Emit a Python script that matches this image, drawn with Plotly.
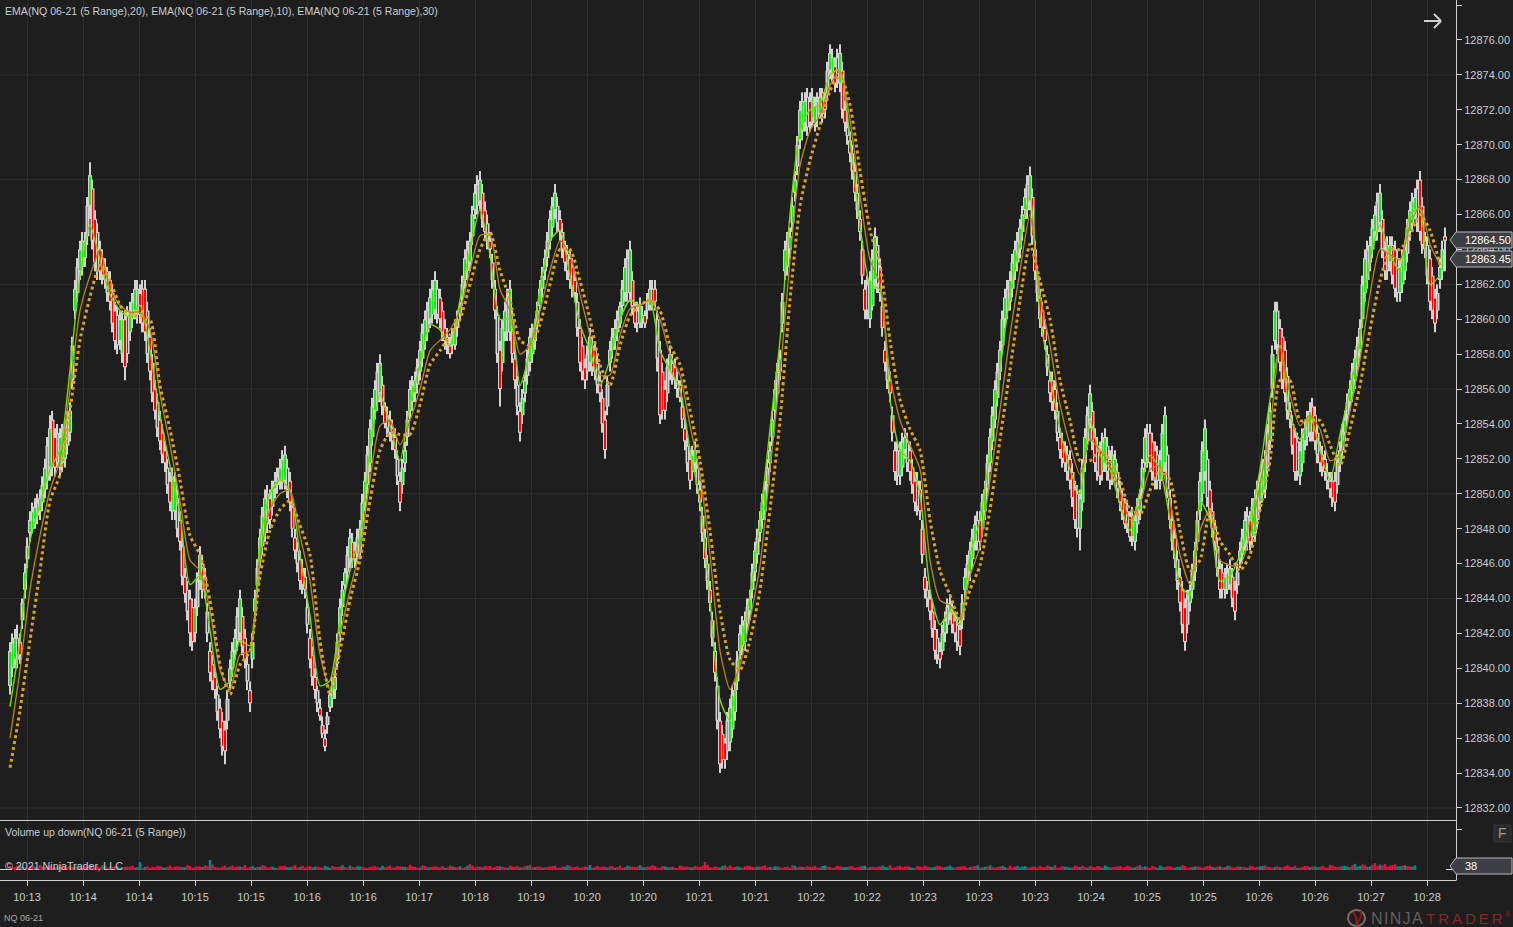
import plotly.graph_objects as go

W, H = 1513, 927
PLOT_R = 1456
MAIN_B = 820
VOL_T, VOL_B = 821, 880

# prices are written as offset from this base
base = 12800

highs = [41.5,42.25,42,46,49,49.75,50.25,52,54.5,53.75,
 53.75,54.25,55.25,62.25,64.5,65,69,66.25,64.5,63.5,
 62.75,61,60.5,60.5,61,62.25,62,62.25,59.5,56.5,
 54.75,53,51.25,51.25,49,45.75,44.5,44,47,45.75,
 41.5,40,38.25,37,40.5,42.25,44.5,42.25,39.25,44.5,
 48,50.25,50.25,51.25,52,52.75,51.25,48,46.75,45.75,
 42.25,40,38.25,36.5,38.75,40,44,45.75,48,47.25,
 48.5,51.25,54.25,56.5,58,55.25,54.75,53.75,51.25,53,
 56.5,57,58.75,60.5,61.75,62.75,61.75,60,59,60,
 61,64,65,67.75,68.5,66.75,65,62.25,58.75,61,
 62.25,58.25,55.25,57,59.5,60,62.25,64,66.25,67.75,
 66.25,64.5,64,62.75,60,57.75,59.5,58.75,57,54.75,
 58.75,60,61,63.5,64.5,61,61.25,60.5,62.25,62.25,
 58.75,56.5,58.5,57.75,56.5,54.25,52.5,53,50.75,48,
 45,41.5,37.5,36,38.25,39.25,42.5,43.25,44.5,47.25,
 49,50.75,53,56.5,58.25,64.5,65.25,68.5,72.5,73,
 73,72.75,73.25,73,75.75,75,75.75,72.5,70.75,69,
 66.25,62.25,62.75,65.25,63.5,58.75,57,53,53,53.75,
 53,51.25,50.75,45.75,44.5,42.75,41.5,43.25,44.25,43.25,
 42.75,45.75,47.25,48.75,49,50.75,53.75,56.5,58.75,61.75,
 62.75,64.5,65.75,67.5,68.75,64.5,61.75,60,57,56.5,
 53.75,53,52.5,50.75,50.25,53.75,56.25,53.75,53,53.75,
 52.5,52.5,50.75,49.75,49,49,50.25,53.75,54,53,
 52.5,55,50.25,48,45.75,44,45,47.25,51.25,54.25,
 50.75,48.5,46.25,45.75,46.25,45,47.25,49,49,50.25,
 51.25,52.5,55.25,61,60,58.75,55.25,53.75,53,54.25,
 55.25,55,53,52.5,51.25,51.25,53,54.75,56.5,58.25,
 60,64,64.75,66.5,67.75,64.5,64.75,64.5,63.5,64.5,
 66.75,67.5,68.5,65,64,61.75,63.5,65.25]

lows = [38.5,40,40.25,44,47.25,48,48.5,49.75,50.75,51,
 51,51.5,53,60,62.25,63,65.75,62.75,62.25,61.75,
 60.5,58.25,58.25,56.5,58.75,60,59.75,58.75,56.5,54.25,
 52.5,51.25,49,48.5,46.75,43.75,41.25,41.5,44.5,44,
 39.25,38.25,36,34.5,38.75,40.5,41.5,40,37.5,42.75,
 45.75,47.25,48,49.75,50.25,50.25,49,46.25,44.5,44,
 40,38.25,37,35.25,37.5,38.25,41.5,44.5,45.75,45.75,
 46.25,49,51.25,54.25,55.25,53.75,53,52,49,51.25,
 54.25,55.25,56.5,58.25,59.5,60,59.5,58.25,57.75,58.25,
 60,61.75,62.75,65.75,66.25,64.5,63.5,60,55,58.75,
 58.75,56,53,55.25,57,58.25,60.5,62.25,64,65.75,
 64.5,62.75,61.75,61,57,56,57,56.5,55.25,52,
 57,58.25,59.5,61,61,59.5,59.5,59.5,60.5,60.5,
 54,54.25,56.5,56,55.25,52.5,50.25,51.25,49,45.75,
 43.25,39.25,34,34.25,35.25,37,40.5,41,42.75,45,
 47.25,48.5,51.25,54.25,56.5,62.25,63.5,66.75,69.75,70.75,
 70.75,70.75,71.5,71.5,73.75,73,73,70.75,69,66.75,
 64.5,60,59.5,61.75,61,57,55.25,50.75,50.5,52,
 50.75,49,48.5,44,42.75,40.5,40,41.5,42.75,41.5,
 40.75,44,45,46.75,46.75,48.5,51.25,53.75,56.5,59.5,
 60.5,62.25,63.5,65.75,66.25,62.25,59.5,58.25,55.25,54.25,
 52,51.25,50.25,48,46.75,51.25,53.75,51.25,50.5,51.25,
 50.25,50.75,49,48,47.25,46.75,48.5,51.25,51.25,50.25,
 50.25,51.25,48,45.75,43.25,41,43.25,45,48.5,50.75,
 48.5,46.75,44,44,44.5,42.75,45.75,46.75,46.75,47.25,
 49,49.75,52.5,58.25,57,55.25,53.75,50.75,50.5,52.5,
 53,52.5,51.25,50.75,49.75,49,51.25,53,54.75,56,
 57.75,61,62.75,64.5,65,62.25,62.75,61.25,61,62.25,
 64.5,65.75,64.5,63.5,60.5,59.25,61.75,62.75]

opens = [39,40.5,41.5,44.5,47.75,48.5,49,50.25,51.5,53.25,
 51.5,52,53.5,60.5,62.75,63.5,66.5,65.75,64,63,
 62.25,60.5,58.75,60,59.25,60.5,61.5,61.75,59,56,
 54.25,52.5,50.75,49,48.5,45.25,44,42,45,45.25,
 41,39.5,37.75,36.5,39.25,41,42,41.75,38.75,43.25,
 46.25,47.75,49.75,50.25,50.75,50.75,50.75,47.5,46.25,45.25,
 41.75,39.5,37.75,36,37.75,38.75,42,44.75,46.25,46.75,
 46.75,49.5,51.75,54.75,55.75,55,54.25,53.25,50.75,51.75,
 54.75,55.75,57,58.75,60,60.5,61.25,59.5,58.5,58.5,
 60.25,62.25,63.25,66.25,66.75,66.25,64.5,61.75,58.25,59.25,
 59.25,57.75,54.75,55.75,57.5,58.75,60.75,62.75,64.5,66.25,
 65.75,64,63.5,62.25,59.5,57.25,57.5,58.25,56.5,54.25,
 57.5,58.75,59.75,61.5,61.5,60.75,59.75,60.25,60.75,61.75,
 58.25,56,57,57.25,56.25,53.75,52,51.75,50.25,47.5,
 44.5,41,37,35.75,35.75,37.5,41,41.5,43.25,45.5,
 47.75,49,51.75,54.75,57,62.75,64,67.25,70.25,71.25,
 72.5,71.25,71.75,72.5,74.25,74.5,73.5,72,70.25,68.5,
 65.75,61.75,60,62.25,63,58.25,56.5,52.5,51,52.5,
 52.5,50.75,50.25,45.25,44,42.25,41,42,43.25,42.75,
 42.25,44.5,45.5,47.25,48.5,49,51.75,54.25,57,60,
 61,62.75,64,66.25,66.75,64,61.25,59.5,56.5,56,
 53.25,52.5,52,50.25,48,51.75,54.25,53.25,52.5,51.75,
 52,51,50.25,49.5,48.75,47.25,49,51.75,53.5,52.5,
 50.75,51.75,49.75,47.5,45.25,43.5,43.75,45.5,49,51.25,
 50.25,48,45.75,44.5,44.75,44.5,46.25,47.25,48.5,47.75,
 49.5,50.25,53,58.75,59.5,58.25,54.75,53.25,51,53,
 53.5,54.5,52.5,52,50.75,50.75,51.75,53.5,55.25,56.5,
 58.25,61.5,63.25,65,65.5,64,63.25,64,61.5,62.75,
 65,66.25,68,64.5,63.5,61.25,62.25,64.75]

closes = [41,41.75,40.75,45.5,48.5,49.25,49.75,51.5,53.75,51.5,
 53.25,53.75,54.75,61.75,64,64.5,68.25,63.25,62.75,62.25,
 61,58.75,60,57.25,60.5,61.75,60.25,59.25,57,54.75,
 53,51.75,49.5,50.75,47.25,44.25,42,43.5,46.5,44.5,
 39.75,38.75,36.5,35.25,40,41.75,44,40.5,38,44,
 47.5,49.75,48.5,50.75,51.5,52.25,49.5,46.75,45,44.5,
 40.5,38.75,37.25,35.5,38.5,39.5,43.5,45.5,47.5,46.25,
 48,50.75,53.75,56,57.5,54,53.5,52.5,49.5,52.5,
 56,56.5,58.25,60,61.25,62.25,60,58.75,58,59.5,
 60.75,63.5,64.5,67.25,68,65,64,60.5,56,60.5,
 61.75,56.5,53.5,56.5,59,59.5,61.75,63.5,65.75,67.25,
 65,63.25,62.25,61.5,57.5,56.5,59,57,55.75,52.5,
 58.25,59.5,60.75,63,64,59.75,60.75,59.75,61.75,61,
 54.5,54.75,58,56.5,55.5,53,50.75,52.5,49.5,46.25,
 43.75,39.75,34.5,34.75,37.75,38.75,42,42.75,44,46.75,
 48.5,50.25,52.5,56,57.75,64,64.75,68,72,72.5,
 71.25,72.25,72.75,72,75.25,73.5,75.25,71.25,69.5,67.25,
 65,60.5,62.25,64.75,61.5,57.5,55.75,51.25,52.5,53.25,
 51.25,49.5,49,44.5,43.25,41,40.5,42.75,43.75,42,
 41.25,45.25,46.75,48.25,47.25,50.25,53.25,56,58.25,61.25,
 62.25,64,65.25,67,68.25,62.75,60,58.75,55.75,54.75,
 52.5,51.75,50.75,48.5,49.75,53.25,55.75,51.75,51,53.25,
 50.75,52,49.5,48.25,47.5,48.5,49.75,53.25,51.75,50.75,
 52,54.5,48.5,46.25,43.75,41.5,44.5,46.75,50.75,53.75,
 49,47.25,44.5,45.25,45.75,43.25,46.75,48.5,47.25,49.75,
 50.75,52,54.75,60.5,57.5,55.75,54.25,51.25,52.5,53.75,
 54.75,53,51.75,51.25,50.25,49.5,52.5,54.25,56,57.75,
 59.5,63.5,64.25,66,67.25,62.75,64.25,61.75,63,64,
 66.25,67,65,64,61,59.75,63,64.5]

# the bars that sit in between the ones above
mid_highs = [42,42.5,44,47.5,49.5,50,51,53.25,54.75,54,
 54,54.75,59,63.5,65,67,68,65.5,64,63,
 62,60.75,60.5,60.75,61.5,62.25,62.25,61,58,55.75,
 54,52,51.5,50.25,47.5,45,44,45.5,46.5,43.75,
 40.75,39,37.5,38.75,41.5,43.5,43.5,40.75,42,46.25,
 49.25,50.5,50.75,51.5,52.5,52,49.75,47.25,46.25,44,
 41.25,39,37.25,37.5,39.5,42,45,47,47.75,48,
 50,52.75,55.5,57.5,56.75,55,54.25,52.5,52,54.75,
 56.75,57.75,59.75,61,62.25,62.25,61,59.5,59.5,60.5,
 62.5,64.5,66.5,68.25,67.75,66,63.75,60.75,60,61.75,
 60.5,56.75,56,58.25,59.75,61,63,65,67,67,
 65.5,64.25,63.5,61.5,59,58.5,59,58,56,56.75,
 59.5,60.5,62.25,64,62.75,61,60.75,61.5,62.25,60.5,
 57.5,57.75,58,57,55.5,53.25,52.75,52,49.25,46.5,
 43.25,39.5,36.75,37.5,39,41,43,44,46,48,
 50,52,54.75,57.5,61.5,65,67,70.5,73,73.25,
 73.25,73,73.25,74.75,75.5,75.5,74.75,71.5,70,67.75,
 64.5,62.5,64,64.75,61.25,57.75,55,53,53.5,53.5,
 52,51.25,48.5,45,43.75,42.25,42.5,44,43.75,43,
 44.25,46.5,48,49,50,52.25,55,57.5,60.5,62.25,
 63.75,65,66.5,68.25,67.5,63,61,58.5,57,55.25,
 53.5,52.75,51.75,50.5,52,55,55.25,53.25,53.5,53.25,
 52.75,51.75,50.25,49.5,49.25,49.75,52,54,53.5,52.75,
 54,52.75,49,46.75,45,44.5,46,49,53,52.5,
 49.5,47.5,46,46,45.75,46,48,49.25,49.75,50.75,
 52,54,58.5,61,59.5,57.25,54.5,53.5,53.75,54.75,
 55.5,54,52.75,51.75,51.25,52.25,54,55.75,57.5,59,
 62.5,64.5,65.75,67.25,66.25,64.75,64.75,64,64,65.75,
 67.25,68,67,64.75,63,62,64.5]

mid_lows = [39.5,40,42.25,45.75,47.75,48.25,49,50.25,51,51.5,
 51.25,52.25,56,61,62.5,64.25,64,62.25,62,61,
 59.25,58,57.5,57.5,59.5,59.75,59.25,57.5,55.25,53.25,
 51.75,50,48.5,47.5,44.75,42.75,41,43,44,41.5,
 38.75,37,35,36.5,39.5,41,40.75,38.75,40,44.25,
 46.5,47.75,48.75,50,50.25,49.75,47.5,45.5,44.25,42,
 39,37.5,36,36.25,37.75,40,43,45,45.75,46,
 47.5,50,52.75,54.75,54.5,53.25,52.5,50.5,50,52.75,
 54.75,55.75,57.25,58.75,59.75,59.75,58.75,58,58,59,
 60.75,62.25,64.25,66,65.25,64,61.75,57.5,57,58.75,
 57.5,54.5,54,56.25,57.5,59.25,61.25,63,64.75,65,
 63.5,62.25,61.25,59,56.5,56.5,56.75,55.75,53.5,54.5,
 57.75,58.75,60.25,61,60.25,59.25,59.5,60,60.5,57,
 54.25,55.25,56.25,55.5,53.75,51.25,50.75,50,47.25,44.5,
 41.25,36.5,34.25,34.75,36,38.75,40.75,42,44,46,
 48,50,52.75,55.25,59.25,62.5,65,68.25,70.25,70.5,
 71,71,71.25,72.5,73.5,73.25,71.5,70,68,65.75,
 62,60,60.5,61.5,59,56,53,50.5,51,51.25,
 50,48.75,46,43.5,41.75,40.25,40.75,42,42,41,
 42.25,44.5,45.75,46.75,47.5,49.75,52.5,55,58,60,
 61.25,62.75,64.5,65.75,64.25,61,59,56.75,54.75,53,
 51.5,50.75,49.25,47.5,49,52.5,52.5,50.75,50.75,50.75,
 50.5,49.75,48.5,47.75,47,47.75,49.75,51.5,50.75,50.25,
 50.75,49.75,46.75,44.5,42,42,44,46.75,49.5,49.25,
 47.5,45.25,44,44.25,43.5,44.25,46,46.75,47,48,
 49.5,51,55.5,58,56,54.25,52.25,50.75,51.25,52.75,
 53,51.75,51,50.25,49.25,50,52,54,55.25,56.75,
 59.5,61.75,63.5,64.5,63.5,62.25,62,61,61.5,63.25,
 65,65,63.75,62,60,60,62.25]

mid_opens = [40,41.75,42.75,46.25,48,48.75,49.5,50.75,54.25,51.75,
 51.75,52.75,56.5,61.5,63,64.75,67.5,65,63.5,62.75,
 61.5,60.25,58,60.25,60,60.25,61.75,60.5,57.5,55.25,
 53.5,51.5,49,49.75,47,44.5,43.5,43.5,46,43.25,
 40.25,38.5,37,37,40,41.5,43,40.25,40.5,44.75,
 47,48.25,49.25,50.5,50.75,51.5,49.25,46.75,45.75,43.5,
 40.75,38.75,36.75,36.75,38.25,40.5,43.5,45.5,47.25,46.5,
 48,50.5,53.25,55.25,56.25,54.5,53.75,52,50.5,53.25,
 55.25,56.25,57.75,59.25,60.25,61.75,60.5,59,58.5,59.5,
 61.25,62.75,64.75,66.5,67.25,65.5,63.25,60.25,57.5,59.25,
 60,56.25,54.5,56.75,58,59.75,61.75,63.5,65.25,66.5,
 65,63.75,63,61,58.5,57,58.5,57.5,55.5,55,
 58.25,59.25,60.75,61.5,62.25,60.5,60,60.5,61.75,60,
 57,55.75,57.5,56.5,55,52.75,51.25,51.5,48.75,46,
 42.75,39,36.25,35.25,36.5,39.25,41.25,42.5,44.5,46.5,
 48.5,50.5,53.25,55.75,59.75,63,65.5,68.75,70.75,72.75,
 71.5,71.5,73,73,74,75,74.25,71,69.5,67.25,
 64,62,60.75,64.25,60.75,57.25,54.5,51,51.5,53,
 51.5,50.75,48,44.5,43.25,41.75,41,42.5,43.25,42.5,
 42.75,45,46.25,48.5,48,50.25,53,55.5,58.5,60.5,
 61.75,63.25,65,66.25,67,62.5,60.5,58,56.5,54.75,
 53,52.25,51.25,50,49.5,53,54.75,52.75,51.25,52.75,
 51,51.25,49.75,49,47.5,48.25,50.25,52,53,52.25,
 51.25,52.25,48.5,46.25,44.5,42.5,44.5,47.25,50,52,
 49,47,45.5,44.5,45.25,44.75,46.5,47.25,47.5,48.5,
 50,51.5,56,60.5,59,56.75,54,53,51.75,53.25,
 55,53.5,52.25,51.25,50.75,50.5,52.5,54.5,55.75,57.25,
 60,62.25,64,65,65.75,62.75,64.25,63.5,62,63.75,
 65.5,67.5,66.5,64.25,62.5,60.5,62.75]

mid_closes = [41.5,40.5,43.75,47,49,49.5,50.5,52.75,51.5,53.5,
 53.5,54.25,58.5,63,64.5,66.5,64.5,62.75,62.5,61.5,
 59.75,58.5,60,58,61,61.75,59.75,58,55.75,53.75,
 52.25,50.5,51,48,45.25,43.25,41.5,45,44.5,42,
 39.25,37.5,35.5,38.25,41,43,41.25,39.25,41.5,45.75,
 48.75,50,50.25,51,52,50.25,48,46,44.75,42.5,
 39.5,38,36.25,37.25,39,41.5,44.5,46.5,46.25,47.5,
 49.5,52.25,55,57,55,53.75,53,51,51.5,54.25,
 56.25,57.25,59.25,60.5,61.75,60.25,59.25,58.5,59,60,
 62,64,66,67.75,65.75,64.5,62.25,58,59.5,61.25,
 58,55,55.5,57.75,59.25,60.5,62.5,64.5,66.5,65.5,
 64,62.75,61.75,59.5,57,58,57.25,56.25,54,56.25,
 59,60,61.75,63.5,60.75,59.75,60.25,61,61,57.75,
 54.75,57.25,56.75,56,54.25,51.75,52.25,50.5,47.75,45,
 41.75,37,34.75,37,38.5,40.5,42.5,43.5,45.5,47.5,
 49.5,51.5,54.25,57,61,64.5,66.5,70,72.5,71,
 72.75,72.5,71.75,74.25,75,73.75,72,70.5,68.5,66.25,
 62.5,60.5,63.5,62,59.5,56.5,53.5,52.5,53,51.75,
 50.5,49.25,46.5,44,42.25,40.75,42,43.5,42.5,41.5,
 43.75,46,47.5,47.25,49.5,51.75,54.5,57,60,61.75,
 63.25,64.5,66,67.75,64.75,61.5,59.5,57.25,55.25,53.5,
 52,51.25,49.75,48,51.5,54.5,53,51.25,53,51.25,
 52.25,50.25,49,48.25,48.75,49.25,51.5,53.5,51.25,50.75,
 53.5,50.25,47.25,45,42.5,44,45.5,48.5,52.5,49.75,
 48,45.75,44.5,45.5,44,45.5,47.5,48.75,49.25,50.25,
 51.5,53.5,58,58.5,56.5,54.75,52.75,51.25,53.25,54.25,
 53.5,52.25,51.5,50.75,49.75,51.75,53.5,55.25,57,58.5,
 62,64,65.25,66.75,64,64.25,62.5,61.5,63.5,65.25,
 66.75,65.5,64.25,62.5,60.5,61.5,64]

# EMAs
ema_10 = [37.8,41.6,47.3,49.4,51.4,52.5,57.1,62.5,65.4,63.4,61.4,60.5,60.1,60.8,58.2,54.5,51.6,48.8,44.8,45.3,
 42.2,38.8,39.3,41.6,41.3,47.3,50,50.8,50.2,46.5,43,39,39.3,42.8,45.6,47.6,52.5,55.7,53.9,51.9,
 55.1,57.4,59.7,59.4,58.5,61.1,64,66.3,63.7,60,60,56.2,58.2,61.7,64.5,65.1,62.5,59.7,58.2,56.2,
 57.7,60,61.1,60.8,61.1,58.2,57.1,56,52.5,49.6,43.9,38.2,37,41,44.2,48.5,53.7,58.8,66,70.8,
 72,72.3,74,74.3,70.3,65.4,62,61.7,55.4,52.5,51.9,50,44.5,42.5,43.3,42.5,46.5,48.5,52.5,57.1,
 61.4,64.5,67.1,60.2,56.8,53.7,51.4,50,54.2,52.2,51.4,49.4,47.9,50.2,52.2,51.4,48.5,44.8,44.2,49.6,
 48.5,45,45.3,46.5,48.5,51.4,55.4,58.5,54.5,53.1,54.5,52.5,50.8,53.4,56,58.8,63.4,65.4,63.7,62.8,
 66,66.3,62,62.5]
ema_20 = [36,39.9,44.5,47.6,50.2,51.9,56,60.5,62.5,64,61.7,60.8,60.4,60.4,59.4,55.7,52.8,49.6,46.2,45.6,
 43.3,39.9,38.8,40.8,41,46.2,49.1,50,50.2,47.6,45,40.8,38.8,41.9,44.5,46.8,50.8,53.9,54.2,52.8,
 54.2,56,58.2,58.8,59.4,60.5,62.8,64.8,64.8,61.7,60.5,58,58.5,60.5,62.8,64.5,63.7,61.4,59.1,56.8,
 56.8,59.1,60.6,60.8,61.1,60,58,56.8,53.9,51.1,46.5,41,38.8,40.2,42.8,45.9,51.4,56.8,63.4,68.8,
 70.8,71.7,73.4,74.2,71.4,67.1,63.4,62,56.8,54.2,52.8,51.4,46.2,43.9,43.6,42.8,45.3,47,50.8,54.8,
 59.1,62.8,66,61.4,58.5,55.1,52.8,51.1,53.1,52.5,51.6,50.2,48.5,49.4,51.4,51.6,49.6,46.5,44.8,47.9,
 49.1,46.2,45.9,45.9,47.6,50.5,53.7,58.5,55.7,53.9,54.5,53.7,51.9,52.2,54.8,57.7,61.4,64,63.7,63.4,
 65.4,66.5,64.3,63.1]
ema_30 = [34.3,37.6,41.6,45.6,49.6,51.1,54.8,58.8,61.3,63.1,62.2,60.8,60.2,60.2,60,56.2,53.7,50.8,47.6,46.5,
 43.9,40.2,38.5,40.2,41,45.3,47.9,49.1,49.6,48.2,46.5,41.6,38.5,41,43.9,46.2,49.6,52.5,53.5,53.4,
 53.4,55.1,57.4,58.2,59.1,60,62,64,65,62.8,61.1,58.8,58.5,59.7,62,64,64,62.2,60,57.4,
 56.2,58.5,60.2,60.8,61.1,60.5,58.5,57.4,54.8,51.9,47.9,43.3,40.5,39.9,41.6,44.5,49.1,54.2,61.1,66.5,
 69.1,71.1,73.1,74,72.3,68.5,65.1,63.1,58.8,55.4,53.7,52.5,48.5,45.6,44.2,42.8,44.5,45.9,49.1,53.1,
 57.1,61.1,64.3,62.2,60,56.5,54.2,51.9,51.9,52.5,51.9,50.8,49.1,48.8,50.2,51.4,50.8,47.9,45.6,46.2,
 49.1,47.3,46.5,45.6,46.5,49.1,51.9,56.5,56.5,54.2,54.2,54.2,52.8,51.6,53.7,56.2,59.4,62.2,64,64,
 64.8,66,65.1,63.1]

volumes = [30,24,38,20,32,28,44,26,36,22,40,30,34,28,24,30,42,26,22,36,28,34,20,26,
 30,22,68,26,18,24,32,20,38,28,26,22,34,24,30,40,85,28,18,36,30,24,30,42,
 26,20,28,34,22,18,30,36,24,40,26,20,32,28,22,34,18,26,30,24,38,22,28,20,
 26,32,20,24,38,22,30,26,44,28,20,34,24,30,22,18,36,26,32,24,50,22,28,34,
 34,24,30,22,38,26,20,32,44,24,28,22,30,36,20,26,34,24,18,30,42,26,22,28,
 30,20,36,24,32,26,40,22,28,34,20,30,24,18,36,28,22,32,26,68,24,30,20,40,
 38,26,22,30,34,20,28,40,24,32,22,26,18,36,30,24,28,34,20,38,26,22,30,24,
 32,20,28,36,24,22,30,26,40,20,34,28,24,18,30,36,22,26,32,24,38,20,28,30,
 24,34,22,26,40,18,30,24,36,28,22,32,20,26,34,24,30,42,22,28,20,36,26,24,
 32,22,30,38,20,26,34,24,28,22,40,30,18,26,36,24,32,20,28,34,22,30,26,24,
 38,20,30,26,34,22,28,24,36,20,32,40,24,26,22,30,28,36,18,34,24,30,26,22,
 44,30,28,36,24,52,34,40,30,58,46,50,36,48,32,40,30,38]
vol_side = ("ddudduddduddudddudddudud"
            "dduuddduddduddddudddddud"
            "duudduddududduduudddudud"
            "dduddddudduddddudduddddd"
            "dduddduddudddddudddduddd"
            "dudddduuddduddddudddddud"
            "dduddddduudddudddddudddu"
            "ddduuddudddduddduuduuddd"
            "udduuddudduuddddudduudud"
            "ddduudddduuuddudduuddudd"
            "duudddudddudduuddddduudd"
            "ddduduudududdduuduudddud")
mid_volumes = [22,34,26,18,40,24,30,36,20,28,34,22,26,38,18,30,24,32,40,20,26,34,22,28,
 36,24,18,30,28,34,22,26,20,32,24,40,18,30,26,34,46,22,28,20,36,30,24,18,
 32,26,40,22,28,18,34,24,30,20,36,26,22,30,18,28,34,24,40,20,26,32,24,18,
 30,22,36,28,20,34,26,24,30,18,38,22,28,26,34,20,30,24,18,36,38,28,22,30,
 20,34,26,18,28,32,24,36,22,30,20,26,34,18,28,40,24,30,22,26,18,34,28,20,
 32,24,18,36,26,30,22,28,40,20,34,24,26,18,32,30,22,28,36,44,20,26,34,24,
 22,30,18,36,26,28,34,20,24,30,18,28,40,22,26,32,24,20,34,28,18,36,22,26,
 30,24,34,18,28,26,36,22,20,30,24,32,18,34,26,28,20,36,24,30,22,26,34,18,
 28,40,20,30,24,26,36,18,22,34,28,24,30,20,26,38,24,18,32,26,22,30,36,20,
 26,34,18,28,24,30,22,36,20,32,26,24,34,18,28,30,22,26,40,20,24,30,18,34,
 26,28,22,36,20,30,24,18,32,26,34,28,20,30,22,40,24,18,26,34,30,22,36,20,
 38,24,32,28,40,30,48,26,44,34,38,28,42,30,36,34,28]
mid_side = ("dduddduddudddudddduddudd"
            "dudddduddduddduddddudddd"
            "uddduddudddduddudduddudd"
            "ddudddudddduddddudduddud"
            "dddudddudduddddudddudddu"
            "ddduddudddduudddudddddud"
            "dudddudddudddduddduddduu"
            "dduddduuddddudddudduuddd"
            "duudddudduuddddduddudddu"
            "dduuddddudddduuddudduddd"
            "uddudddudduddddduudddudd"
            "dduudududdddduddudud" "ddd")

tick_text = ["10:13","10:14","10:14","10:15","10:15","10:16","10:16","10:17","10:18","10:19","10:20","10:20","10:21",
             "10:21","10:22","10:22","10:23","10:23","10:23","10:24","10:25","10:25","10:26","10:26","10:27","10:28"]
tick_pos = [3.4 + 11.2 * k for k in range(len(tick_text))]
grid_prices = [12832,12838,12844,12850,12856,12862,12868,12874]
last_price = 12863.45
last_close = 12864.50
last_volume = 38

idx = list(range(len(closes)))
mid_idx = [i + 0.5 for i in range(len(mid_closes))]
ema_idx = list(range(0, len(closes), 2))

def px(x):
    return x / W

def py(y):
    return 1 - y / H

BG = "#1e1e1e"
GRID = "#2d2d2d"
AXIS = "#cfcfcf"
TXT = "#c8ccd0"
GRAY = "#d3d3d3"
FONT = "Liberation Sans"

fig = go.Figure()

def add_candles(xs, o, h, l, c, stripe):
    # wick, grey body, then the coloured stripe, all as overlaid bars
    fig.add_trace(go.Bar(x=xs, base=[base + v for v in l], y=[a - b for a, b in zip(h, l)], width=0.22,
                         marker=dict(color=GRAY, line=dict(width=0)), hoverinfo="skip", showlegend=False))
    fig.add_trace(go.Bar(x=xs, base=[base + min(a, b) for a, b in zip(o, c)], y=[abs(a - b) for a, b in zip(o, c)],
                         width=0.8, marker=dict(color=GRAY, line=dict(width=0)), hoverinfo="skip", showlegend=False))
    colors = ["#1fe81f" if b >= a else "#ff0000" for a, b in zip(o, c)]
    fig.add_trace(go.Bar(x=xs, base=[base + min(a, b) + 0.06 for a, b in zip(o, c)],
                         y=[abs(a - b) - 0.12 for a, b in zip(o, c)], width=stripe,
                         marker=dict(color=colors, line=dict(width=0)), hoverinfo="skip", showlegend=False))

add_candles(mid_idx, mid_opens, mid_highs, mid_lows, mid_closes, 0.14)
add_candles(idx, opens, highs, lows, closes, 0.25)

fig.add_trace(go.Scatter(x=ema_idx, y=[base + v for v in ema_10], mode="lines",
    line=dict(color="#74e000", width=1.4, shape="spline", smoothing=0.6), hoverinfo="skip", showlegend=False))
fig.add_trace(go.Scatter(x=ema_idx, y=[base + v for v in ema_20], mode="lines",
    line=dict(color="#b9860f", width=1.3, shape="spline", smoothing=0.6), hoverinfo="skip", showlegend=False))
fig.add_trace(go.Scatter(x=ema_idx, y=[base + v for v in ema_30], mode="lines",
    line=dict(color="#dca224", width=3, dash="dot", shape="spline", smoothing=0.6), hoverinfo="skip", showlegend=False))

# volume pane: two sets of thin columns, side by side
def vol_colors(sides):
    return ["#dc143c" if s == "d" else "#008b80" for s in sides]

fig.add_trace(go.Bar(x=idx, y=volumes, width=0.5, marker=dict(color=vol_colors(vol_side), line=dict(width=0)),
                     hoverinfo="skip", showlegend=False, xaxis="x2", yaxis="y2"))
fig.add_trace(go.Bar(x=mid_idx, y=mid_volumes, width=0.5, marker=dict(color=vol_colors(mid_side), line=dict(width=0)),
                     hoverinfo="skip", showlegend=False, xaxis="x2", yaxis="y2"))

shapes = []
for p in grid_prices:
    shapes.append(dict(type="line", xref="paper", yref="y", x0=0, x1=px(PLOT_R), y0=p, y1=p,
                       line=dict(color=GRID, width=1), layer="below"))
# frame lines
for (x0, y0, x1, y1) in [(0, 820.5, PLOT_R, 820.5), (0, 880.5, PLOT_R, 880.5), (PLOT_R + .5, 0, PLOT_R + .5, 880.5),
                         (PLOT_R - 10, 869.5, PLOT_R, 869.5), (0, 869.5, 12, 869.5)]:
    shapes.append(dict(type="line", xref="paper", yref="paper", x0=px(x0), x1=px(x1), y0=py(y0), y1=py(y1),
                       line=dict(color=AXIS, width=1)))
# arrow, top right
for (x0, y0, x1, y1) in [(1424, 21, 1441, 21), (1434, 14, 1441, 21), (1434, 28, 1441, 21)]:
    shapes.append(dict(type="line", xref="paper", yref="paper", x0=px(x0), x1=px(x1), y0=py(y0), y1=py(y1),
                       line=dict(color="#d0d0d0", width=2)))

def tag(yc, half=8):
    pts = [(1450, yc), (1456, yc - half), (1512, yc - half), (1512, yc + half), (1456, yc + half)]
    path = "M " + " L ".join(f"{px(a):.5f} {py(b):.5f}" for a, b in pts) + " Z"
    return dict(type="path", xref="paper", yref="paper", path=path, fillcolor="#3e3e46",
                line=dict(color="#b8b8b8", width=1), layer="above")

shapes += [tag(240), tag(259), tag(866)]
shapes.append(dict(type="rect", xref="paper", yref="paper", x0=px(1494), x1=px(1511), y0=py(825), y1=py(842),
                   fillcolor="#2b2b2b", line=dict(color="#383838", width=1)))
# logo
shapes.append(dict(type="circle", xref="paper", yref="paper", x0=px(1348), x1=px(1365), y0=py(910), y1=py(926),
                   line=dict(color="#7d7068", width=2)))
shapes.append(dict(type="path", xref="paper", yref="paper",
                   path=f"M {px(1353):.5f} {py(912):.5f} Q {px(1358):.5f} {py(918):.5f} {px(1356):.5f} {py(925):.5f} "
                        f"Q {px(1362):.5f} {py(918):.5f} {px(1361):.5f} {py(911):.5f}",
                   line=dict(color="#8b1c1c", width=2)))

def label(x, y, text, size=10.5, color=TXT, xanchor="left"):
    return dict(xref="paper", yref="paper", x=px(x), y=py(y), text=text, showarrow=False, xanchor=xanchor,
                yanchor="middle", align="left", font=dict(family=FONT, size=size, color=color))

legend_text = "EMA(NQ 06-21 (5 Range),20), EMA(NQ 06-21 (5 Range),10), EMA(NQ 06-21 (5 Range),30)"
thin = "\u2009"
annotations = [
    label(3, 11, legend_text, size=10.57),
    label(3, 832, "Volume up down(NQ 06-21 (5 Range))", size=10.57),
    label(3, 866, "© 2021 NinjaTrader, LLC", size=10.7),
    label(2, 918, "NQ 06-21", size=9, color="#a8a8a8"),
    label(1463, 240, f"{last_close:.2f}", size=11, color="#ffffff"),
    label(1463, 259, f"{last_price:.2f}", size=11, color="#ffffff"),
    label(1463, 866, str(last_volume), size=11, color="#ffffff"),
    label(1502.5, 833, "F", size=14, color="#9a9a9a", xanchor="center"),
    label(1369, 918, "N\u200aI\u200aN\u200aJ\u200aA", size=16, color="#62605e"),
    label(1424, 918, thin.join("TRADER"), size=15, color="#8c2626"),
    label(1503, 914, "®", size=7, color="#8c2626"),
]

dom_x = [0, PLOT_R / W]
fig.update_layout(
    width=W, height=H, autosize=False,
    margin=dict(l=0, r=0, t=0, b=0),
    paper_bgcolor=BG, plot_bgcolor=BG,
    showlegend=False, barmode="overlay", hovermode=False,
    font=dict(family=FONT, size=11, color=TXT),
    shapes=shapes, annotations=annotations,
    xaxis=dict(domain=dom_x, range=[-2, 289.2], tickmode="array", tickvals=tick_pos, ticktext=tick_text,
               showticklabels=False, ticks="", showgrid=True, gridcolor=GRID, gridwidth=1, zeroline=False,
               anchor="y", showline=False),
    yaxis=dict(domain=[1 - MAIN_B / H, 1], range=[12831.31, 12878.29], side="right", anchor="x",
               tickmode="linear", tick0=12832, dtick=2, tickformat=".2f", ticks="outside", ticklen=5,
               tickcolor=AXIS, tickwidth=1, showgrid=False, zeroline=False, showline=False,
               tickfont=dict(family=FONT, size=11, color=TXT), separatethousands=False),
    xaxis2=dict(domain=dom_x, range=[-2, 289.2], tickmode="array", tickvals=tick_pos, ticktext=tick_text,
                ticks="outside", ticklen=5, tickcolor=AXIS, tickwidth=1, showgrid=True, gridcolor=GRID,
                zeroline=False, anchor="y2", showline=False, tickangle=0, ticklabelstandoff=2,
                tickfont=dict(family=FONT, size=11, color=TXT)),
    yaxis2=dict(domain=[1 - VOL_B / H, 1 - VOL_T / H], range=[-85, 415], side="right", anchor="x2",
                tickmode="array", tickvals=[347], ticktext=[""], ticks="outside", ticklen=5, tickcolor=AXIS,
                showgrid=False, zeroline=False, showline=False),
)

post = ("document.body.style.margin='0';document.body.style.background='#1e1e1e';"
        "document.documentElement.style.overflow='hidden';")
fig.write_html("out.html", post_script=post, config={"displayModeBar": False})
